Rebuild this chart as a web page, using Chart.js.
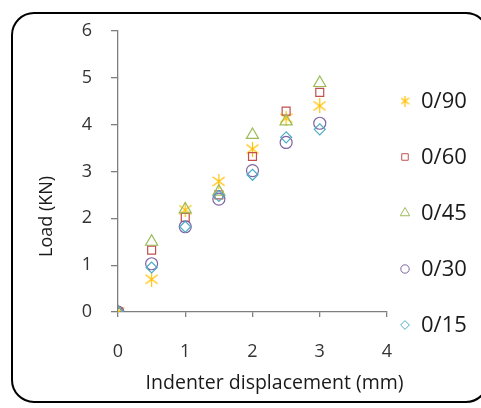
<!DOCTYPE html>
<html><head><meta charset="utf-8">
<script src="https://cdn.jsdelivr.net/npm/chart.js@4"></script>
<style>
html,body{margin:0;padding:0;background:#fff;overflow:hidden;}
#wrap{position:relative;width:481px;height:408px;overflow:hidden;background:#fff;}
#frame{position:absolute;left:11px;top:12px;width:478px;height:391px;border:2.5px solid #000;border-radius:23px;box-sizing:border-box;}
canvas{position:absolute;left:0;top:0;}
</style></head><body>
<div id="wrap"><div id="frame"></div><canvas id="c" width="481" height="408"></canvas></div>
<script>
// ---- data ----
const displacement = [0, 0.5, 1, 1.5, 2, 2.5, 3];
const load_0_90 = [0, 0.70, 2.18, 2.79, 3.48, 4.14, 4.40];
const load_0_60 = [0, 1.32, 2.02, 2.50, 3.32, 4.29, 4.69];
const load_0_45 = [0, 1.50, 2.19, 2.57, 3.78, 4.07, 4.89];
const load_0_30 = [0, 1.03, 1.82, 2.41, 3.02, 3.62, 4.03];
const load_0_15 = [0, 0.95, 1.82, 2.48, 2.93, 3.73, 3.90];
const seriesNames = ['0/90', '0/60', '0/45', '0/30', '0/15'];
const xTickValues = [0, 1, 2, 3, 4];
const yTickValues = [0, 1, 2, 3, 4, 5, 6];
const xTitle = 'Indenter displacement (mm)';
const yTitle = 'Load (KN)';

// ---- styles ----
const colors = ['#FFC000', '#C0504D', '#9BBB59', '#8064A2', '#4BACC6'];
function asterisk(w, h, color) {
  const c = document.createElement('canvas');
  c.width = w; c.height = h;
  const g = c.getContext('2d');
  g.strokeStyle = color; g.lineWidth = 1.2;
  const cx = w / 2, cy = h / 2, r = w / 2 - 0.5;
  g.beginPath();
  g.moveTo(cx - r, cy - r * 0.75); g.lineTo(cx + r, cy + r * 0.75);
  g.moveTo(cx + r, cy - r * 0.75); g.lineTo(cx - r, cy + r * 0.75);
  g.moveTo(cx, 0); g.lineTo(cx, h);
  g.stroke();
  return c;
}
const styles = [
  { pointStyle: asterisk(13, 15, colors[0]), radius: 7, lStyle: asterisk(9, 11, colors[0]), lRadius: 5 },
  { pointStyle: 'rect', radius: 5.6, lStyle: 'rect', lRadius: 4.6 },
  { pointStyle: 'triangle', radius: 7, lStyle: 'triangle', lRadius: 5.5 },
  { pointStyle: 'circle', radius: 6, lStyle: 'circle', lRadius: 4.2 },
  { pointStyle: 'rectRot', radius: 5.5, lStyle: 'rectRot', lRadius: 4.4 }
];
const allLoads = [load_0_90, load_0_60, load_0_45, load_0_30, load_0_15];
const datasets = seriesNames.map((name, i) => ({
  label: name,
  data: displacement.map((x, j) => ({ x: x, y: allLoads[i][j] })),
  pointStyle: styles[i].pointStyle,
  pointRadius: styles[i].radius,
  pointHoverRadius: styles[i].radius,
  borderColor: colors[i],
  backgroundColor: 'rgba(0,0,0,0)',
  pointBorderWidth: 1.2,
  showLine: false,
  order: seriesNames.length - i
}));

const FONT = '"Open Sans", Lato, sans-serif';
const decor = {
  id: 'decor',
  afterDraw(chart) {
    const ctx = chart.ctx, a = chart.chartArea;
    ctx.save();
    ctx.fillStyle = '#1a1a1a';
    ctx.textBaseline = 'middle';
    ctx.textAlign = 'center';
    ctx.font = '19.5px ' + FONT;
    ctx.fillText(xTitle, a.left + (a.right - a.left) * 0.582, a.bottom + 71);
    ctx.save();
    ctx.translate(a.left - 71, a.top + (a.bottom - a.top) * 0.66);
    ctx.rotate(-Math.PI / 2);
    ctx.font = '18px ' + FONT;
    ctx.fillText(yTitle, 0, 0);
    ctx.restore();
    // legend
    ctx.font = '22px ' + FONT;
    ctx.textAlign = 'left';
    seriesNames.forEach((n, i) => {
      const y = a.top + 70 + i * 56;
      const x = a.right + 18;
      ctx.strokeStyle = colors[i];
      ctx.fillStyle = 'rgba(0,0,0,0)';
      Chart.helpers.drawPoint(ctx, { pointStyle: styles[i].lStyle, radius: styles[i].lRadius, borderWidth: 1.1, rotation: 0 }, x, y);
      ctx.fillStyle = '#1a1a1a';
      ctx.fillText(n, x + 16, y + 1);
    });
    ctx.restore();
  }
};

new Chart(document.getElementById('c'), {
  type: 'scatter',
  data: { datasets },
  options: {
    responsive: false,
    animation: false,
    layout: { padding: { left: 0, right: 94, top: 31, bottom: 0 } },
    plugins: { legend: { display: false }, tooltip: { enabled: false } },
    scales: {
      x: {
        type: 'linear', min: 0, max: 4,
        afterBuildTicks: s => { s.ticks = xTickValues.map(v => ({ value: v })); },
        afterFit: s => { s.height = 96; },
        grid: { drawOnChartArea: false, drawTicks: true, tickLength: 5, color: '#7f7f7f', lineWidth: 1.3 },
        border: { display: true, color: '#7f7f7f', width: 1.3 },
        ticks: { padding: 24, color: '#333', font: { size: 18, family: FONT } }
      },
      y: {
        type: 'linear', min: 0, max: 6,
        afterBuildTicks: s => { s.ticks = yTickValues.map(v => ({ value: v })); },
        afterFit: s => { s.width = 118; },
        grid: { drawOnChartArea: false, drawTicks: true, tickLength: 7, color: '#7f7f7f', lineWidth: 1.3 },
        border: { display: true, color: '#7f7f7f', width: 1.3 },
        ticks: { padding: 19, color: '#333', font: { size: 18, family: FONT } }
      }
    }
  },
  plugins: [decor]
});
</script>
</body></html>
